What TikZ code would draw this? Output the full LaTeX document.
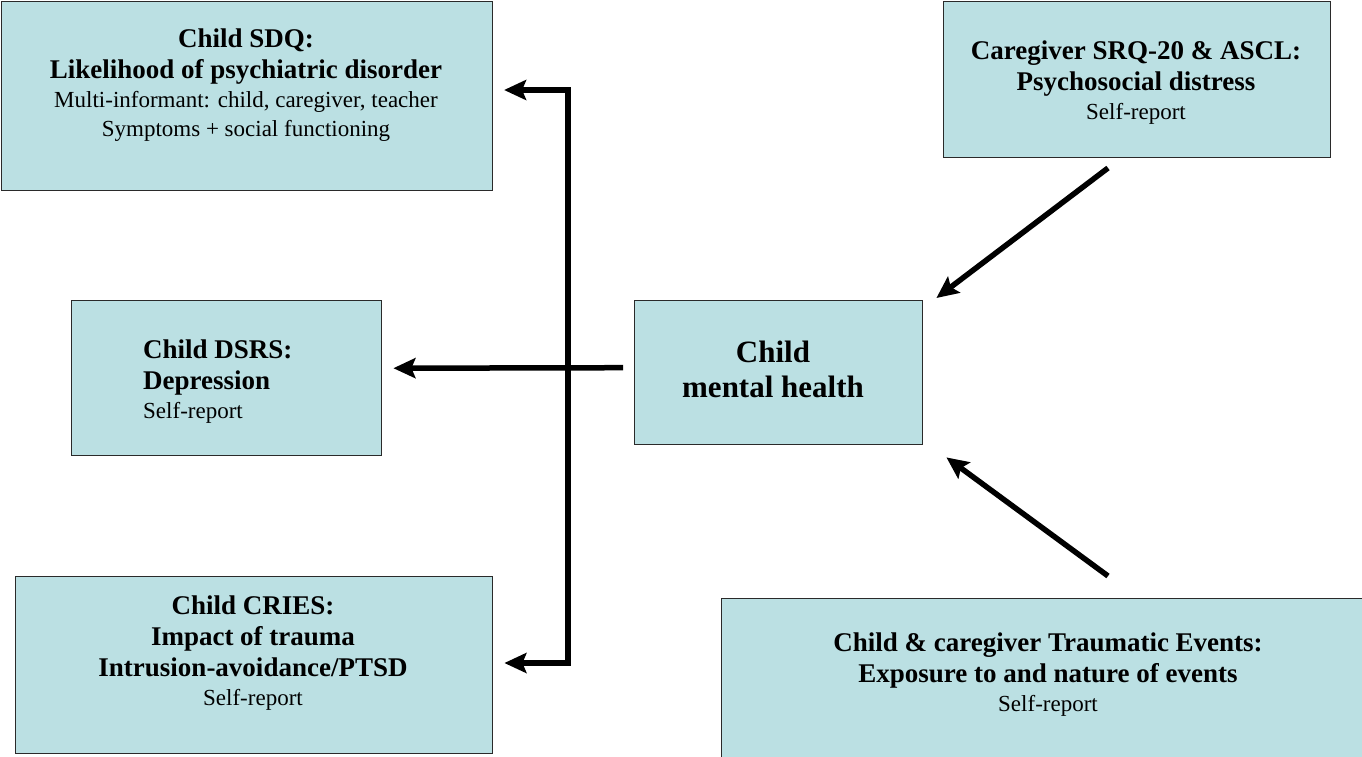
\documentclass[tikz,border=0pt]{standalone}
\usepackage{fontspec}
\setmainfont{Liberation Serif}
\usetikzlibrary{arrows.meta}
\definecolor{boxfill}{HTML}{BBE0E3}
\definecolor{boxline}{HTML}{2A2A2A}
\newcommand\bt[1]{{\fontsize{27}{32}\selectfont\bfseries #1}}
\begin{document}
\begin{tikzpicture}[x=1pt,y=-1pt,
  box/.style={draw=boxline, line width=1.4pt, fill=boxfill, anchor=north west, inner sep=0pt},
  txt/.style={align=center, font=\fontsize{23}{29}\selectfont, inner sep=0pt},
  conn/.style={line width=5.5pt, -{Stealth[length=22pt,width=20pt,inset=4pt]}}
]
\useasboundingbox (0,0) rectangle (1362,756);
\fill[white] (0,0) rectangle (1362,756);

% boxes
\node[box, minimum width=491pt, minimum height=189pt] (sdq) at (0.7,0.7) {};
\node[box, minimum width=387pt, minimum height=156pt] (cg) at (943,0.7) {};
\node[box, minimum width=310pt, minimum height=155pt] (dsrs) at (71,300) {};
\node[box, minimum width=288pt, minimum height=144pt] (mh) at (634,300) {};
\node[box, minimum width=477pt, minimum height=177pt] (cries) at (15,576) {};
\node[box, minimum width=660pt, minimum height=175pt] (te) at (721,598) {};

% texts
\node[txt] (sdqt) at (246,85) {\bt{Child SDQ:}\\[2pt]\bt{Likelihood of psychiatric disorder}\\Multi-informant: child, caregiver, teacher\\Symptoms + social functioning};
\node[txt] (cgt) at (1136,83) {\bt{Caregiver SRQ-20 \& ASCL:}\\[2pt]\bt{Psychosocial distress}\\Self-report};
\node[txt, align=left, anchor=west] (dsrst) at (143,382) {\bt{Child DSRS:}\\[2pt]\bt{Depression}\\Self-report};
\node[txt] (mht) at (773,369) {{\fontsize{31}{38}\selectfont\bfseries Child}\\[6pt]{\fontsize{31}{38}\selectfont\bfseries mental health}};
\node[txt] (criest) at (253,653) {\bt{Child CRIES:}\\[2pt]\bt{Impact of trauma}\\[2pt]\bt{Intrusion-avoidance/PTSD}\\Self-report};
\node[txt] (tet) at (1048,675) {\bt{Child \& caregiver Traumatic Events:}\\[2pt]\bt{Exposure to and nature of events}\\Self-report};

% connectors
\coordinate (vtop) at (568,90);
\coordinate (vbot) at (568,663);
\coordinate (cgs) at (1108,168);
\coordinate (tes) at (1108,576);
\draw[conn] (vbot) -- (vtop) -- ([xshift=11pt]sdq.east |- vtop);
\draw[conn] (vtop) -- (vbot) -- ([xshift=11pt]cries.east |- vbot);
\draw[conn] ([shift={(-11,-5)}]mh.west) -- ([shift={(11,-10)}]dsrs.east);
\draw[conn] (cgs) -- ([shift={(13,-2)}]mh.north east);
\draw[conn] (tes) -- ([shift={(23,12)}]mh.south east);
\end{tikzpicture}
\end{document}
